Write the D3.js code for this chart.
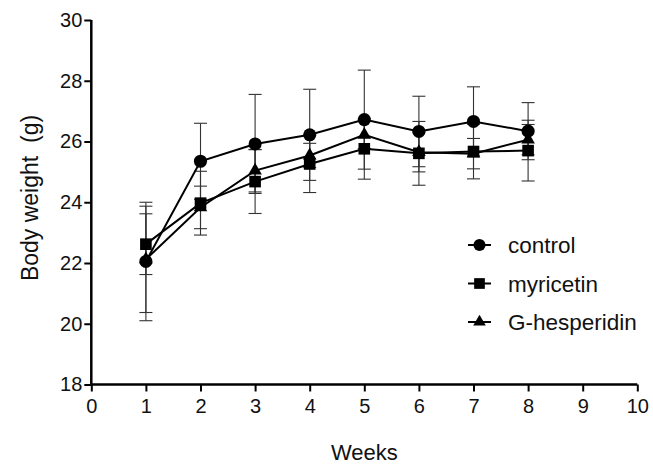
<!DOCTYPE html>
<html>
<head>
<meta charset="utf-8">
<script src="https://cdn.jsdelivr.net/npm/d3@7"></script>
<style>
  body { margin: 0; background: #fff; }
  svg { display: block; }
</style>
</head>
<body>
<svg id="chart" width="653" height="464"></svg>
<script>
let weeks = [1, 2, 3, 4, 5, 6, 7, 8];
let seriesNames = ["control", "myricetin", "G-hesperidin"];
let controlMean = [22.05, 25.35, 25.92, 26.22, 26.72, 26.33, 26.66, 26.34];
let controlSd = [1.95, 1.25, 1.63, 1.5, 1.63, 1.16, 1.14, 0.94];
let myricetinMean = [22.62, 23.97, 24.68, 25.26, 25.76, 25.61, 25.67, 25.70];
let myricetinSd = [1.0, 1.05, 1.05, 0.94, 1.0, 1.05, 0.9, 1.0];
let hesperidinMean = [22.12, 23.83, 25.04, 25.54, 26.22, 25.65, 25.6, 26.06];
let hesperidinSd = [1.75, 0.7, 0.7, 0.4, 0.45, 0.65, 0.5, 0.5];
let xTicks = [0, 1, 2, 3, 4, 5, 6, 7, 8, 9, 10];
let yTicks = [18, 20, 22, 24, 26, 28, 30];

let textColor = "#111";
let font = "'Liberation Sans', Arial, Helvetica, sans-serif";

let svg = d3.select("#chart");

let xScale = d3.scaleLinear()
  .domain([0, 10])
  .range([91.3, 637.3]);
let yScale = d3.scaleLinear()
  .domain([18, 30])
  .range([384.5, 20]);

let series = [
  {name: seriesNames[0], mean: controlMean, sd: controlSd, shape: d3.symbolCircle, size: 135},
  {name: seriesNames[1], mean: myricetinMean, sd: myricetinSd, shape: d3.symbolSquare, size: 135},
  {name: seriesNames[2], mean: hesperidinMean, sd: hesperidinSd, shape: d3.symbolTriangle, size: 80}
];

// error bars (thin, drawn first)
series.forEach(s => {
  let g = svg.append("g");
  weeks.forEach((w, i) => {
    let x = xScale(w);
    let top = yScale(s.mean[i] + s.sd[i]);
    let bot = yScale(s.mean[i] - s.sd[i]);
    g.append("line")
      .attr("x1", x).attr("x2", x)
      .attr("y1", top).attr("y2", bot)
      .style("stroke", "#333").style("stroke-width", 1.1);
    [top, bot].forEach(y => {
      g.append("line")
        .attr("x1", x - 6.5).attr("x2", x + 6.5)
        .attr("y1", y).attr("y2", y)
        .style("stroke", "#333").style("stroke-width", 1.1);
    });
  });
});

// lines
let line = d3.line()
  .x((d, i) => xScale(weeks[i]))
  .y(d => yScale(d));
series.forEach(s => {
  svg.append("path")
    .datum(s.mean)
    .attr("d", line)
    .style("fill", "none")
    .style("stroke", "#000")
    .style("stroke-width", 2);
});

// markers
series.forEach(s => {
  svg.selectAll(null)
    .data(s.mean)
    .enter()
    .append("path")
      .attr("d", d3.symbol().type(s.shape).size(s.size))
      .attr("transform", (d, i) => `translate(${xScale(weeks[i])},${yScale(d)})`)
      .style("fill", "#000");
});

// axes
let xAxis = svg.append("g")
  .attr("transform", `translate(0,${yScale(18)})`)
  .call(d3.axisBottom(xScale).tickValues(xTicks).tickSize(7).tickPadding(7));
let yAxis = svg.append("g")
  .attr("transform", `translate(${xScale(0)},0)`)
  .call(d3.axisLeft(yScale).tickValues(yTicks).tickSize(7).tickPadding(2));

[xAxis, yAxis].forEach(ax => {
  ax.select(".domain").style("stroke", "#000").style("stroke-width", 2.5)
    .attr("d", ax === xAxis ? `M${xScale(0)},0H${xScale(10)}` : `M0,${yScale(18)}V${yScale(30)}`);
  ax.selectAll(".tick line").style("stroke", "#000").style("stroke-width", 2);
  ax.selectAll(".tick text")
    .style("font-family", font)
    .style("font-size", "20px")
    .style("fill", textColor);
});

// axis titles
svg.append("text")
  .attr("x", (xScale(0) + xScale(10)) / 2)
  .attr("y", 460)
  .text("Weeks")
  .style("text-anchor", "middle")
  .style("font-family", font)
  .style("font-size", "22px")
  .style("fill", textColor);
svg.append("text")
  .attr("transform", `translate(38,198) rotate(-90)`)
  .text("Body weight  (g)")
  .style("text-anchor", "middle")
  .style("font-family", font)
  .style("font-size", "23px")
  .style("fill", textColor)
  .style("white-space", "pre");

// legend
let legend = svg.append("g");
series.forEach((s, i) => {
  let ly = 245 + i * 38.5;
  legend.append("line")
    .attr("x1", 468).attr("x2", 491)
    .attr("y1", ly).attr("y2", ly)
    .style("stroke", "#000").style("stroke-width", 2);
  legend.append("path")
    .attr("d", d3.symbol().type(s.shape).size(s.size * 0.85))
    .attr("transform", `translate(479.5,${ly})`)
    .style("fill", "#000");
  legend.append("text")
    .attr("x", 508)
    .attr("y", ly + 8)
    .text(s.name)
    .style("font-family", font)
    .style("font-size", "22.5px")
    .style("fill", textColor);
});
</script>
</body>
</html>
